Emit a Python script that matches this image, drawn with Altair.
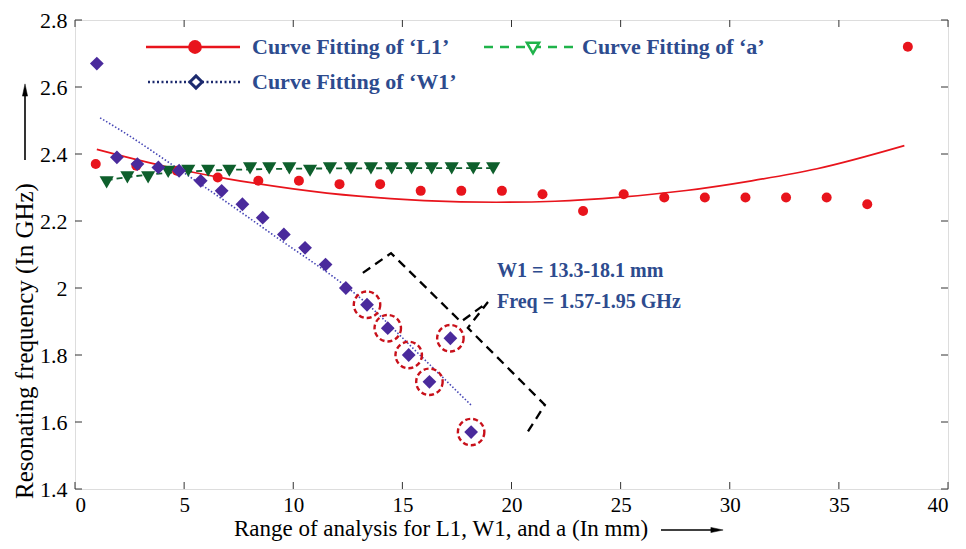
import altair as alt
import pandas as pd

# ---------------- data ----------------
L1_x = [0.95, 2.81, 4.67, 6.54, 8.40, 10.26, 12.12, 13.98, 15.84, 17.70, 19.56,
        21.42, 23.28, 25.14, 27.00, 28.86, 30.72, 32.58, 34.44, 36.30, 38.16]
L1_y = [2.37, 2.365, 2.35, 2.33, 2.32, 2.32, 2.31, 2.31, 2.29, 2.29, 2.29,
        2.28, 2.23, 2.28, 2.27, 2.27, 2.27, 2.27, 2.27, 2.25, 2.72]

L1_fit_x = [1, 4, 7, 10, 13, 16, 19.3, 22, 25, 28, 31, 34, 38]
L1_fit_y = [2.414, 2.365, 2.326, 2.296, 2.274, 2.261, 2.256, 2.259, 2.271,
            2.291, 2.320, 2.356, 2.425]

W1_x = [1.0, 1.92, 2.86, 3.82, 4.77, 5.76, 6.72, 7.67, 8.60, 9.57, 10.54,
        11.48, 12.41, 13.38, 14.33, 15.29, 16.24, 17.20, 18.15]
W1_y = [2.67, 2.39, 2.37, 2.36, 2.35, 2.32, 2.29, 2.25, 2.21, 2.16, 2.12,
        2.07, 2.00, 1.95, 1.88, 1.80, 1.72, 1.85, 1.57]
W1_circled_from = 13.3

W1_fit_x = [1.15, 2.06, 4.81, 9.0, 13.36, 15.8, 18.17]
W1_fit_y = [2.508, 2.472, 2.352, 2.162, 1.954, 1.800, 1.649]

A_x = [1.45, 2.40, 3.35, 4.27, 5.19, 6.10, 7.07, 8.02, 8.90, 9.82, 10.77,
       11.68, 12.64, 13.56, 14.51, 15.42, 16.34, 17.26, 18.25, 19.16]
A_y = [2.315, 2.33, 2.33, 2.347, 2.35, 2.35, 2.35, 2.357, 2.357, 2.357, 2.35,
       2.357, 2.357, 2.357, 2.357, 2.357, 2.357, 2.357, 2.357, 2.357]

A_fit_x = [1.45, 3.3, 5.0, 8.0, 12.0, 19.2]
A_fit_y = [2.322, 2.338, 2.347, 2.354, 2.357, 2.358]

# bracket outline (data coordinates)
brace_x = [13.19, 14.48, 17.68, 18.92, 18.0, 21.53, 20.71]
brace_y = [2.045, 2.104, 1.899, 1.958, 1.881, 1.651, 1.567]

x_ticks = [0, 5, 10, 15, 20, 25, 30, 35, 40]
y_ticks = [1.4, 1.6, 1.8, 2.0, 2.2, 2.4, 2.6, 2.8]

x_title = "Range of analysis for L1, W1, and a (In mm)"
y_title = "Resonating frequency (In GHz)"
legend_labels = ["Curve Fitting of \u2018L1\u2019", "Curve Fitting of \u2018a\u2019",
                 "Curve Fitting of \u2018W1\u2019"]
note_lines = ["W1 = 13.3-18.1 mm", "Freq = 1.57-1.95 GHz"]

# ---------------- styling ----------------
W, H = 873, 469
SERIF = "Liberation Serif"
RED = "#e8141c"
GREEN_D = "#0e5f2c"
GREEN_L = "#1fb34a"
PURPLE = "#4a2a9c"
NAVY = "#1c2a6e"
TXT = "#2d4b8e"
ARROW_R = "M -1 -0.42 L 1 0 L -1 0.42 Z"
ARROW_U = "M -0.42 1 L 0 -1 L 0.42 1 Z"

xs = alt.Scale(domain=[0, 40], nice=False)
ys = alt.Scale(domain=[1.4, 2.8], nice=False)

df_L1 = pd.DataFrame({"x": L1_x, "y": L1_y})
df_L1f = pd.DataFrame({"x": L1_fit_x, "y": L1_fit_y})
df_W1 = pd.DataFrame({"x": W1_x, "y": W1_y})
df_W1f = pd.DataFrame({"x": W1_fit_x, "y": W1_fit_y})
df_A = pd.DataFrame({"x": A_x, "y": A_y})
df_Af = pd.DataFrame({"x": A_fit_x, "y": A_fit_y})
df_br = pd.DataFrame({"x": brace_x, "y": brace_y, "o": list(range(len(brace_x)))})
df_circ = df_W1[df_W1["x"] >= W1_circled_from]

X = alt.X("x:Q", scale=xs,
          axis=alt.Axis(values=x_ticks, ticks=False, domain=False, grid=False,
                        labelFont=SERIF, labelFontSize=21, labelColor="#000",
                        labelPadding=5, title=""))
Y = alt.Y("y:Q", scale=ys,
          axis=alt.Axis(values=y_ticks, ticks=False, domain=False, grid=False, format="~g",
                        labelFont=SERIF, labelFontSize=22, labelColor="#000",
                        labelPadding=8, title=""))

base_axes = alt.Chart(df_L1f).mark_line(color=RED, strokeWidth=1.7, interpolate="monotone").encode(x=X, y=Y)

w1_fit = alt.Chart(df_W1f).mark_line(color="#4545b5", strokeWidth=1.6, strokeDash=[1.5, 2],
                                     interpolate="monotone").encode(x="x:Q", y="y:Q")
a_fit = alt.Chart(df_Af).mark_line(color=GREEN_D, strokeWidth=1.8, strokeDash=[6, 4],
                                   interpolate="monotone").encode(x="x:Q", y="y:Q")

l1_pts = alt.Chart(df_L1).mark_point(shape="circle", filled=True, color=RED,
                                     size=100, opacity=1).encode(x="x:Q", y="y:Q")
a_pts = alt.Chart(df_A).mark_point(shape="triangle-down", filled=True, color=GREEN_D,
                                   size=200, opacity=1).encode(x="x:Q", y="y:Q")
w1_pts = alt.Chart(df_W1).mark_point(shape="diamond", filled=True, color=PURPLE,
                                     size=190, opacity=1).encode(x="x:Q", y="y:Q")
circles = alt.Chart(df_circ).mark_point(shape="circle", filled=False, color="#c8101a",
                                        size=700, strokeWidth=2.4, strokeDash=[5, 3],
                                        opacity=1).encode(x="x:Q", y="y:Q")
brace = alt.Chart(df_br).mark_line(color="#000", strokeWidth=2.3, strokeDash=[9, 6]).encode(
    x="x:Q", y="y:Q", order="o:Q")

# ticks pointing inward (frame drawn by view stroke)
df_xt = pd.DataFrame({"t": x_ticks})
df_yt = pd.DataFrame({"t": y_ticks})
tk_b = alt.Chart(df_xt).mark_rule(color="#333").encode(x="t:Q", y=alt.value(H), y2=alt.value(H - 7))
tk_t = alt.Chart(df_xt).mark_rule(color="#333").encode(x="t:Q", y=alt.value(0), y2=alt.value(7))
tk_l = alt.Chart(df_yt).mark_rule(color="#333").encode(y="t:Q", x=alt.value(0), x2=alt.value(7))
tk_r = alt.Chart(df_yt).mark_rule(color="#333").encode(y="t:Q", x=alt.value(W), x2=alt.value(W - 7))

one = pd.DataFrame({"k": [0]})

# axis titles with arrows (pixel positions relative to the plot area)
titles = [
    alt.Chart(one).mark_text(text=x_title, font=SERIF, fontSize=23, color="#000",
                             align="center", baseline="middle").encode(
        x=alt.value(366), y=alt.value(509)),
    alt.Chart(one).mark_rule(color="#000", strokeWidth=1.6).encode(
        x=alt.value(586), x2=alt.value(640), y=alt.value(510)),
    alt.Chart(one).mark_point(shape=ARROW_R, fill="#000", stroke="#000", strokeWidth=0.5,
                              size=150, opacity=1, fillOpacity=1).encode(
        x=alt.value(642), y=alt.value(510)),
    alt.Chart(one).mark_text(text=y_title, font=SERIF, fontSize=25, color="#000", angle=270,
                             align="center", baseline="middle").encode(
        x=alt.value(-50), y=alt.value(321)),
    alt.Chart(one).mark_rule(color="#000", strokeWidth=1.6).encode(
        y=alt.value(140), y2=alt.value(72), x=alt.value(-50)),
    alt.Chart(one).mark_point(shape=ARROW_U, fill="#000", stroke="#000", strokeWidth=0.5,
                              size=150, opacity=1, fillOpacity=1).encode(
        x=alt.value(-50), y=alt.value(70)),
]

# legend (pixel positions inside the plot area)
leg = [
    alt.Chart(one).mark_rule(color=RED, strokeWidth=2.5).encode(
        x=alt.value(71), x2=alt.value(165), y=alt.value(27)),
    alt.Chart(one).mark_point(shape="circle", filled=True, color=RED, size=190,
                              opacity=1).encode(x=alt.value(120), y=alt.value(27)),
    alt.Chart(one).mark_text(text=legend_labels[0], font=SERIF, fontSize=22, fontWeight="bold",
                             color=TXT, align="left", baseline="middle").encode(
        x=alt.value(177), y=alt.value(27)),
    alt.Chart(one).mark_rule(color=GREEN_L, strokeWidth=2.5, strokeDash=[9, 7]).encode(
        x=alt.value(409), x2=alt.value(501), y=alt.value(27)),
    alt.Chart(one).mark_point(shape="triangle-down", fill="white", stroke=GREEN_L, size=150,
                              strokeWidth=2.5, opacity=1, fillOpacity=1).encode(
        x=alt.value(458), y=alt.value(28)),
    alt.Chart(one).mark_text(text=legend_labels[1], font=SERIF, fontSize=22, fontWeight="bold",
                             color=TXT, align="left", baseline="middle").encode(
        x=alt.value(507), y=alt.value(27)),
    alt.Chart(one).mark_rule(color=NAVY, strokeWidth=2.5, strokeDash=[2, 2.5]).encode(
        x=alt.value(73), x2=alt.value(165), y=alt.value(62)),
    alt.Chart(one).mark_point(shape="diamond", fill="white", stroke=NAVY, size=150,
                              strokeWidth=3, opacity=1, fillOpacity=1).encode(
        x=alt.value(121), y=alt.value(62)),
    alt.Chart(one).mark_text(text=legend_labels[2], font=SERIF, fontSize=22, fontWeight="bold",
                             color=TXT, align="left", baseline="middle").encode(
        x=alt.value(177), y=alt.value(62)),
]

note = [
    alt.Chart(one).mark_text(text=note_lines[0], font=SERIF, fontSize=20, fontWeight="bold",
                             color=TXT, align="left", baseline="middle").encode(
        x=alt.value(422), y=alt.value(251)),
    alt.Chart(one).mark_text(text=note_lines[1], font=SERIF, fontSize=20, fontWeight="bold",
                             color=TXT, align="left", baseline="middle").encode(
        x=alt.value(422), y=alt.value(282)),
]

chart = alt.layer(
    base_axes, w1_fit, a_fit, l1_pts, a_pts, w1_pts, circles, brace,
    tk_b, tk_t, tk_l, tk_r, *titles, *leg, *note
).properties(
    width=W, height=H,
    autosize=alt.AutoSizeParams(type="none"),
    padding={"left": 67, "top": 12, "right": 10, "bottom": 52},
).configure_view(stroke="#333", strokeWidth=1.2
).configure(background="white")

chart.save("out.html", embed_options={"renderer": "svg", "actions": False})
